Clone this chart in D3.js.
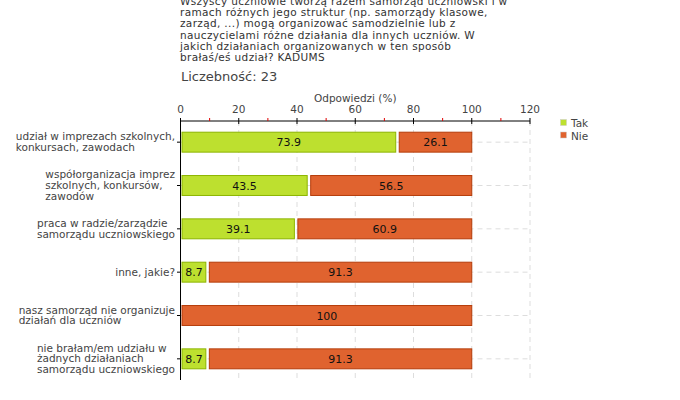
<!DOCTYPE html>
<html>
<head>
<meta charset="utf-8">
<script src="https://cdn.jsdelivr.net/npm/d3@7"></script>
<style>
  body { margin: 0; background: #fff; }
  svg { display: block; font-family: "DejaVu Sans", Verdana, sans-serif; }
</style>
</head>
<body>
<div id="chart"></div>
<script>
// dane
const titleLines = [
  "Wszyscy uczniowie tworzą razem samorząd uczniowski i w",
  "ramach różnych jego struktur (np. samorządy klasowe,",
  "zarząd, ...) mogą organizować samodzielnie lub z",
  "nauczycielami różne działania dla innych uczniów. W",
  "jakich działaniach organizowanych w ten sposób",
  "brałaś/eś udział? KADUMS"
];
const countLabel = "Liczebność: 23";
const categories = [
  ["udział w imprezach szkolnych,", "konkursach, zawodach"],
  ["współorganizacja imprez", "szkolnych, konkursów,", "zawodów"],
  ["praca w radzie/zarządzie", "samorządu uczniowskiego"],
  ["inne, jakie?"],
  ["nasz samorząd nie organizuje", "działań dla uczniów"],
  ["nie brałam/em udziału w", "żadnych działaniach", "samorządu uczniowskiego"]
];
const seriesNames = ["Tak", "Nie"];
const tak = [73.9, 43.5, 39.1, 8.7, 0, 8.7];
const nie = [26.1, 56.5, 60.9, 91.3, 100, 91.3];
const xTicks = [0, 20, 40, 60, 80, 100, 120];
const xMinor = [10, 30, 50, 70, 90, 110];

const fills = ["#bde02f", "#e0632f"];
const strokes = ["#8cb400", "#b43c0a"];

const W = 680, H = 400;
const svg = d3.select("#chart").append("svg").attr("width", W).attr("height", H);

const x = d3.scaleLinear().domain([0, 120]).range([180.5, 530]);
const y = d3.scaleBand().domain(d3.range(categories.length)).range([120, 380])
  .paddingInner(0.54).paddingOuter(0.27);

// tytuł
svg.append("text").attr("fill", "#333").attr("font-size", 10.5).attr("letter-spacing", 0.35)
  .selectAll("tspan").data(titleLines).join("tspan")
  .attr("x", 180).attr("y", (d, i) => 5 + i * 11.2).text(d => d);
svg.append("text").attr("x", 181).attr("y", 81).attr("fill", "#444")
  .attr("font-size", 13).text(countLabel);

// siatka
const grid = svg.append("g").attr("stroke", "#ddd").attr("stroke-dasharray", "5,4");
grid.selectAll("line.v").data(xTicks.slice(1)).join("line").attr("class", "v")
  .attr("x1", d => x(d)).attr("x2", d => x(d)).attr("y1", 121).attr("y2", 380);
grid.selectAll("line.h").data(d3.range(categories.length)).join("line").attr("class", "h")
  .attr("x1", x(0)).attr("x2", x(120))
  .attr("y1", d => y(d) + y.bandwidth() / 2 + 0.5).attr("y2", d => y(d) + y.bandwidth() / 2 + 0.5);

// słupki
const stacks = categories.map((c, i) => {
  let acc = 0, first = true;
  return [tak[i], nie[i]].map((v, s) => {
    const seg = { i, s, v, x0: acc, x1: acc + v, first: first && v > 0 };
    if (v > 0) first = false;
    acc += v;
    return seg;
  }).filter(d => d.v > 0);
}).flat();

const bars = svg.append("g");
bars.selectAll("rect").data(stacks).join("rect")
  .attr("x", d => x(d.x0) + (d.first ? 1.5 : 3.5))
  .attr("width", d => x(d.x1) - x(d.x0) - (d.first ? 1.5 : 3.5))
  .attr("y", d => y(d.i) + 0.5)
  .attr("height", y.bandwidth())
  .attr("fill", d => fills[d.s])
  .attr("stroke", d => strokes[d.s]).attr("stroke-width", 1);

bars.selectAll("text").data(stacks).join("text")
  .attr("x", d => (x(d.x0) + (d.first ? 1.5 : 3.5) + x(d.x1)) / 2)
  .attr("y", d => y(d.i) + y.bandwidth() / 2 + 4.5)
  .attr("text-anchor", "middle").attr("font-size", 11).attr("fill", "#111")
  .text(d => d.v);

// oś X (góra)
const ax = svg.append("g").attr("transform", "translate(0,121)");
ax.append("line").attr("x1", x(0)).attr("x2", x(120)).attr("stroke", "#000");
ax.selectAll("line.mj").data(xTicks).join("line").attr("class", "mj")
  .attr("x1", d => x(d)).attr("x2", d => x(d)).attr("y1", -3).attr("y2", 3).attr("stroke", "#000");
ax.selectAll("line.mn").data(xMinor).join("line").attr("class", "mn")
  .attr("x1", d => x(d)).attr("x2", d => x(d)).attr("y1", -3).attr("y2", 0).attr("stroke", "#e00000");
ax.selectAll("text").data(xTicks).join("text")
  .attr("x", d => x(d)).attr("y", -8).attr("text-anchor", "middle")
  .attr("font-size", 10.5).attr("fill", "#444").text(d => d);
svg.append("text").attr("x", (x(0) + x(120)) / 2).attr("y", 101.5)
  .attr("text-anchor", "middle").attr("font-size", 10.5).attr("fill", "#444")
  .text("Odpowiedzi (%)");

// oś Y
const ay = svg.append("g");
ay.append("line").attr("x1", 180.5).attr("x2", 180.5).attr("y1", 121).attr("y2", 380).attr("stroke", "#000");
ay.selectAll("line").filter(".t").data(d3.range(categories.length)).join("line").attr("class", "t")
  .attr("x1", 177).attr("x2", 180.5)
  .attr("y1", d => y(d) + y.bandwidth() / 2 + 0.5).attr("y2", d => y(d) + y.bandwidth() / 2 + 0.5)
  .attr("stroke", "#000");

const lh = 10.6;
categories.forEach((lines, i) => {
  const cy = y(i) + y.bandwidth() / 2;
  const t = ay.append("text").attr("font-size", 10.5).attr("fill", "#444");
  const spans = t.selectAll("tspan").data(lines).join("tspan")
    .attr("y", (d, k) => cy + 4 + (k - (lines.length - 1) / 2) * lh).text(d => d);
  let maxW = 0;
  spans.each(function () { maxW = Math.max(maxW, this.getComputedTextLength()); });
  spans.attr("x", 175 - maxW);
});

// legenda
const lg = svg.append("g").attr("transform", "translate(560,119)");
seriesNames.forEach((n, k) => {
  lg.append("rect").attr("x", 0.5).attr("y", k * 12.5 + 0.5).attr("width", 6).attr("height", 6)
    .attr("fill", fills[k]).attr("stroke", "#ccc").attr("stroke-width", 0.5);
  lg.append("text").attr("x", 11).attr("y", k * 12.5 + 8).attr("font-size", 10.5)
    .attr("fill", "#444").text(n);
});
</script>
</body>
</html>
